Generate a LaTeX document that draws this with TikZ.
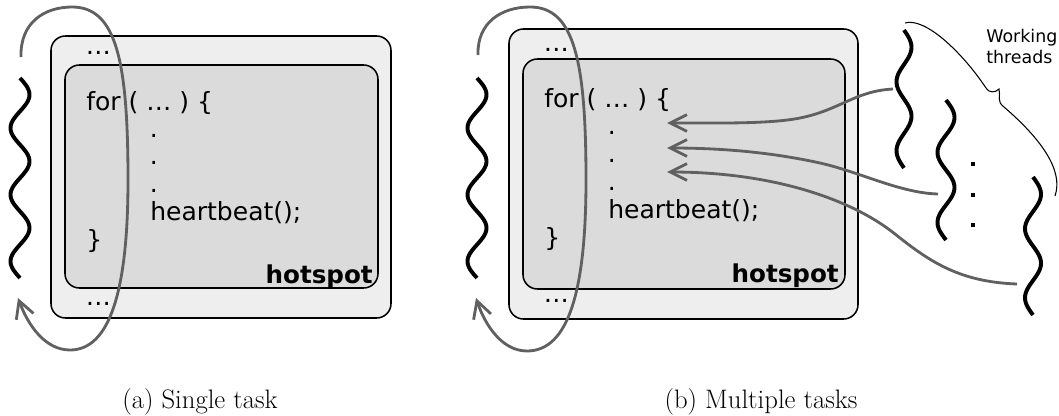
\documentclass[tikz,border=0pt]{standalone}
\usepackage{fontspec}
\newfontfamily\codefont{DejaVu Sans}
\usetikzlibrary{arrows.meta}
\definecolor{loopgray}{RGB}{96,96,96}
\definecolor{outerfill}{RGB}{238,238,238}
\definecolor{innerfill}{RGB}{219,219,219}

\begin{document}
\begin{tikzpicture}[x=0.025cm,y=-0.025cm,
  outerbox/.style={draw=black, line width=1.1pt, fill=outerfill, rounded corners=0.36cm},
  innerbox/.style={draw=black, line width=1.1pt, fill=innerfill, rounded corners=0.36cm},
  code/.style={inner sep=0pt, anchor=base west, font=\codefont\fontsize{17.8}{20}\selectfont},
  tag/.style={inner sep=0pt, anchor=base east, font=\codefont\bfseries\fontsize{17.5}{20}\selectfont},
  thread/.style={line width=2.8pt, black},
  loopline/.style={draw=loopgray, line width=2pt, -{Straight Barb[length=12pt,width=13pt]}},
  callarrow/.style={draw=loopgray, line width=2pt, -{Straight Barb[length=12pt,width=12pt]}},
  subcap/.style={inner sep=0pt, anchor=base, font=\fontsize{19}{22}\selectfont},
  note/.style={inner sep=0pt, anchor=base west, align=left,
    font=\codefont\fontsize{12.4}{14.9}\selectfont},
  dotmark/.style={fill=black},
  bracepath/.style={draw=black, line width=0.75pt},
]
\useasboundingbox (0,0) rectangle (1059,415);

% ---------------- (a) single task ----------------
\draw[outerbox] (51,36) rectangle (391,318);
\draw[innerbox] (65,65) rectangle (378,288);

\node[code] (a-pre)  at (85.5,54)  {…};
\node[code] (a-for)  at (86,110)   {for ( … ) \{};
\node[code] (a-d1)   at (149.5,137) {.};
\node[code] (a-d2)   at (149.5,164.5) {.};
\node[code] (a-d3)   at (149.5,192) {.};
\node[code] (a-hb)   at (150,220)  {heartbeat();};
\node[code] (a-end)  at (86,248)   {\}};
\node[code] (a-post) at (85.5,305) {…};
\node[tag]  (a-hot)  at (373,283)  {hotspot};

% the running thread
\draw[thread] plot[domain=0:200, samples=120, smooth] ({20+9.5*sin(5.4*\x)}, {78+\x});

% loop around the code
\coordinate (a-loopstart) at (21,57);
\coordinate (a-looptop) at (72,7);
\coordinate (a-loopright) at (128,180);
\coordinate (a-loopbottom) at (70,350);
\coordinate (a-loopend) at (18,298);
\draw[loopline] (a-loopstart) .. controls (20,22) and (45,7) .. (a-looptop)
  .. controls (116,7) and (128,60) .. (a-loopright)
  .. controls (128,290) and (110,350) .. (a-loopbottom)
  .. controls (45,350) and (28,325) .. (a-loopend);

\node[subcap] (a-cap) at (200,408) {(a) Single task};

% ---------------- (b) multiple tasks ----------------
\draw[outerbox] (509,29) rectangle (858,319);
\draw[innerbox] (523,59) rectangle (845,289);

\node[code] (b-pre)  at (543.5,51)  {…};
\node[code] (b-for)  at (544,107)   {for ( … ) \{};
\node[code] (b-d1)   at (607.5,134.5) {.};
\node[code] (b-d2)   at (607.5,162.5) {.};
\node[code] (b-d3)   at (607.5,190.5) {.};
\node[code] (b-hb)   at (608,218)   {heartbeat();};
\node[code] (b-end)  at (544,246)   {\}};
\node[code] (b-post) at (543.5,302) {…};
\node[tag]  (b-hot)  at (839,282)   {hotspot};

\draw[thread] plot[domain=0:200, samples=120, smooth] ({477+9.5*sin(5.4*\x)}, {78+\x});

\coordinate (b-loopstart) at (478,55);
\coordinate (b-looptop) at (530,7);
\coordinate (b-loopright) at (586,180);
\coordinate (b-loopbottom) at (527,351);
\coordinate (b-loopend) at (476,298);
\draw[loopline] (b-loopstart) .. controls (477,22) and (502,7) .. (b-looptop)
  .. controls (574,7) and (586,60) .. (b-loopright)
  .. controls (586,292) and (568,351) .. (b-loopbottom)
  .. controls (502,351) and (485,325) .. (b-loopend);

% working threads
\draw[thread] plot[domain=0:138, samples=90, smooth] ({904+7.5*sin(5.217*\x)}, {30+\x});
\draw[thread] plot[domain=0:140, samples=90, smooth] ({946+8.5*sin(5.143*\x)}, {100+\x});
\draw[thread] plot[domain=0:138, samples=90, smooth] ({1033+8*sin(5.217*\x)}, {177+\x});

\fill[dotmark] (970.8,161.8) rectangle (975.3,166.3);
\fill[dotmark] (970.8,192.8) rectangle (975.3,197.3);
\fill[dotmark] (970.8,222.8) rectangle (975.3,227.3);

% brace grouping the threads
\coordinate (br-start) at (905,23);
\coordinate (br-tip) at (999,89);
\coordinate (br-end) at (1055,196);
\draw[bracepath] (br-start) .. controls (925,17) and (962,52) .. (986,88)
  .. controls (989,93) and (995,93) .. (br-tip)
  .. controls (1001,96) and (996,101) .. (1004,107)
  .. controls (1040,138) and (1064,170) .. (br-end);

\node[note] (b-label) at (986,63) {Working\\threads};

% heartbeat calls coming from the threads
\coordinate (t1) at (893,89);
\coordinate (t2) at (938,194);
\coordinate (t3) at (1017,284);
\coordinate (h1) at (667,123);
\coordinate (h2) at (667,148);
\coordinate (h3) at (667,172);
\draw[callarrow] (t1) .. controls (855,91) and (840,110) .. (800,118)
  .. controls (770,124) and (720,123) .. (h1);
\draw[callarrow] (t2) .. controls (900,193) and (860,172) .. (820,163)
  .. controls (770,152) and (720,148) .. (h2);
\draw[callarrow] (t3) .. controls (960,282) and (930,262) .. (895,234)
  .. controls (850,198) and (770,172) .. (h3);

\node[subcap] (b-cap) at (761,408) {(b) Multiple tasks};
\end{tikzpicture}
\end{document}
